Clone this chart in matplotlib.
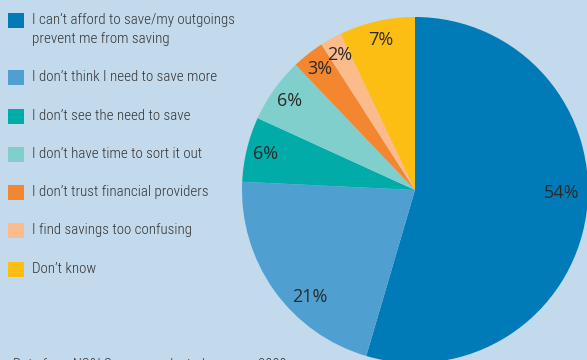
import matplotlib
matplotlib.use("Agg")
import matplotlib.pyplot as plt
from matplotlib.patches import Rectangle
import numpy as np

# Reasons given for not saving more
categories = [
    "I can\u2019t afford to save/my outgoings\nprevent me from saving",
    "I don\u2019t think I need to save more",
    "I don\u2019t see the need to save",
    "I don\u2019t have time to sort it out",
    "I don\u2019t trust financial providers",
    "I find savings too confusing",
    "Don\u2019t know",
]
shares = [54, 21, 6, 6, 3, 2, 7]
colors = ["#007bb8", "#4fa0d0", "#00aba8", "#80cfcc", "#f4862f", "#fbbb8b", "#fdbe14"]
source_note = "Data from NS&I Survey conducted summer 2009"

W, H = 587, 360
BG = "#c2daec"
TEXT = "#333333"
FONT = ["Roboto Condensed", "DejaVu Sans"]

fig = plt.figure(figsize=(W / 100, H / 100), dpi=100, facecolor=BG)
ax = fig.add_axes([0, 0, 1, 1])
ax.set_facecolor(BG)

cx, cy, R = 415, H - 190, 173
wedges, _, autotexts = ax.pie(
    shares, colors=colors, startangle=90, counterclock=False,
    center=(cx, cy), radius=R, autopct="%d%%", pctdistance=0.89,
    wedgeprops=dict(linewidth=0), frame=True,
    textprops=dict(color="#2a2a2a", fontsize=13, family=["Open Sans", "DejaVu Sans"]),
)
ax.set_xlim(0, W)
ax.set_ylim(0, H)
ax.set_aspect("equal")
ax.axis("off")

# place percentage labels: angular nudge and radial distance per slice
shift_deg = [-7, -10, 0, 0, 0, 0, 0]
label_r = [0.85, 0.87, 0.89, 0.89, 0.89, 0.89, 0.89]
total = sum(shares)
cum = 0
for t, v, s, rr in zip(autotexts, shares, shift_deg, label_r):
    mid = (cum + v / 2) / total * 360 + s
    cum += v
    a = np.deg2rad(90 - mid)
    t.set_position((cx + rr * R * np.cos(a), cy + rr * R * np.sin(a)))
    t.set_text(f"{v}%")

# legend
row_y = [20, 77, 116, 154, 192, 230, 269]
for cat, col, y in zip(categories, colors, row_y):
    yy = H - y
    ax.add_patch(Rectangle((8, yy - 7.5), 16, 15, facecolor=col, edgecolor="none"))
    ax.text(32, yy + 7, cat, ha="left", va="top", color=TEXT,
            fontsize=10.8, family=FONT, fontweight="light", linespacing=1.5)

ax.text(13, H - 358, source_note, ha="left", va="top", color=TEXT,
        fontsize=10.5, family=FONT, fontweight="light")

fig.savefig("out.png", dpi=100, facecolor=BG)
